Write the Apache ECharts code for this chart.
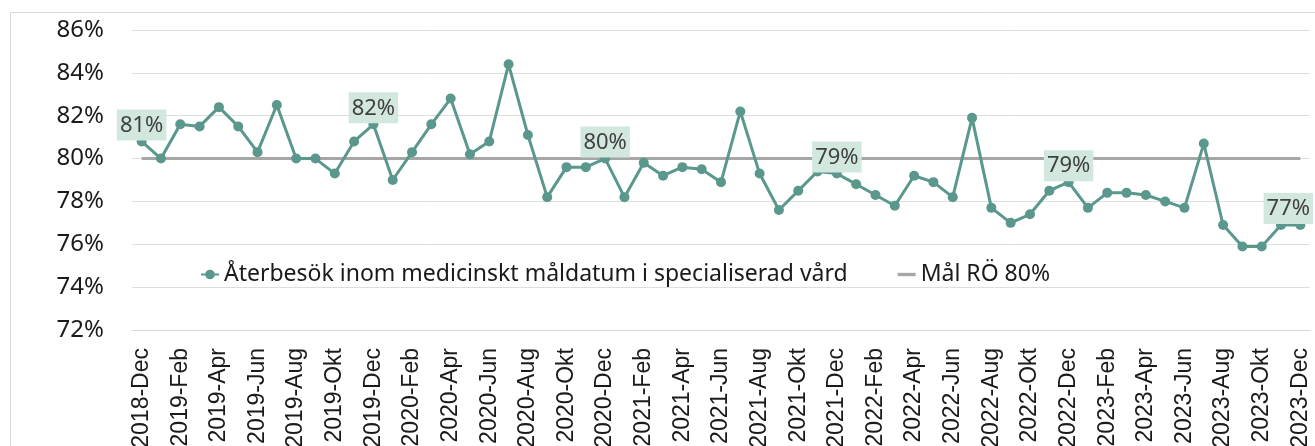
<!DOCTYPE html>
<html>
<head>
<meta charset="utf-8">
<script src="https://cdn.jsdelivr.net/npm/echarts@6/dist/echarts.min.js"></script>
<style>
  html, body { margin: 0; padding: 0; background: #fff; overflow: hidden; }
  #chart { width: 1315px; height: 446px; }
</style>
</head>
<body>
<div id="chart"></div>
<script>
// months 2018-Dec .. 2023-Dec
const monthNames = ['Jan', 'Feb', 'Mar', 'Apr', 'May', 'Jun', 'Jul', 'Aug', 'Sep', 'Okt', 'Nov', 'Dec'];
const categories = ['2018-Dec'];
[2019, 2020, 2021, 2022, 2023].forEach(y => monthNames.forEach(m => categories.push(y + '-' + m)));

const visits = [
  80.8,
  80.0, 81.6, 81.5, 82.4, 81.5, 80.3, 82.5, 80.0, 80.0, 79.3, 80.8, 81.6,
  79.0, 80.3, 81.6, 82.8, 80.2, 80.8, 84.4, 81.1, 78.2, 79.6, 79.6, 80.0,
  78.2, 79.8, 79.2, 79.6, 79.5, 78.9, 82.2, 79.3, 77.6, 78.5, 79.4, 79.3,
  78.8, 78.3, 77.8, 79.2, 78.9, 78.2, 81.9, 77.7, 77.0, 77.4, 78.5, 78.9,
  77.7, 78.4, 78.4, 78.3, 78.0, 77.7, 80.7, 76.9, 75.9, 75.9, 76.9, 76.9
];
const target = categories.map(() => 80);
const yTicks = [72, 74, 76, 78, 80, 82, 84, 86];
const labelledIdx = [0, 12, 24, 36, 48, 60];

const teal = '#5a978d';
const font = '"Noto Sans", sans-serif';

const visitData = visits.map((v, i) => {
  if (labelledIdx.indexOf(i) < 0) return v;
  const item = { value: v, label: { show: true } };
  if (i === visits.length - 1) item.label.offset = [-12, 0];
  return item;
});

const chart = echarts.init(document.getElementById('chart'), null, { renderer: 'canvas' });
chart.setOption({
  animation: false,
  graphic: [{
    type: 'rect',
    shape: { x: 10.5, y: 12.5, width: 1330, height: 460 },
    style: { fill: 'none', stroke: '#d9d9d9', lineWidth: 1 },
    silent: true
  }],
  grid: { left: 132, right: 5, top: 30, bottom: 116, containLabel: false, outerBoundsMode: 'none' },
  legend: {
    left: 195,
    top: 258,
    itemGap: 50,
    itemWidth: 18,
    itemHeight: 12,
    textStyle: { fontFamily: font, fontSize: 23, color: '#1a1a1a' },
    data: [
      { name: 'Återbesök inom medicinskt måldatum i specialiserad vård' },
      { name: 'Mål RÖ 80%', icon: 'path://M0,0H16V3H0Z' }
    ]
  },
  xAxis: {
    type: 'category',
    data: categories,
    boundaryGap: true,
    axisLine: { lineStyle: { color: '#d9d9d9' } },
    axisTick: { show: false },
    axisLabel: {
      interval: 1,
      rotate: 90,
      margin: 18,
      fontFamily: '"Liberation Sans", Arial, sans-serif',
      fontSize: 23,
      color: '#1a1a1a'
    }
  },
  yAxis: {
    type: 'value',
    min: yTicks[0],
    max: yTicks[yTicks.length - 1],
    interval: 2,
    axisLine: { show: false },
    axisTick: { show: false },
    splitLine: { lineStyle: { color: '#dedede', width: 1 } },
    axisLabel: {
      margin: 28,
      fontFamily: font,
      fontSize: 24,
      color: '#1a1a1a',
      formatter: v => v + '%'
    }
  },
  series: [
    {
      name: 'Återbesök inom medicinskt måldatum i specialiserad vård',
      type: 'line',
      data: visitData,
      z: 3,
      symbol: 'circle',
      symbolSize: 10,
      lineStyle: { color: teal, width: 3 },
      itemStyle: { color: teal },
      label: {
        show: false,
        position: 'top',
        distance: -4,
        fontFamily: font,
        fontSize: 22,
        color: '#404040',
        backgroundColor: '#d2e8de',
        padding: [5, 3, 4, 3],
        formatter: p => Math.round(p.value) + '%'
      }
    },
    {
      name: 'Mål RÖ 80%',
      type: 'line',
      data: target,
      z: 2,
      symbol: 'none',
      lineStyle: { color: '#a6a6a6', width: 3 },
      itemStyle: { color: '#a6a6a6' }
    }
  ]
});
</script>
</body>
</html>
